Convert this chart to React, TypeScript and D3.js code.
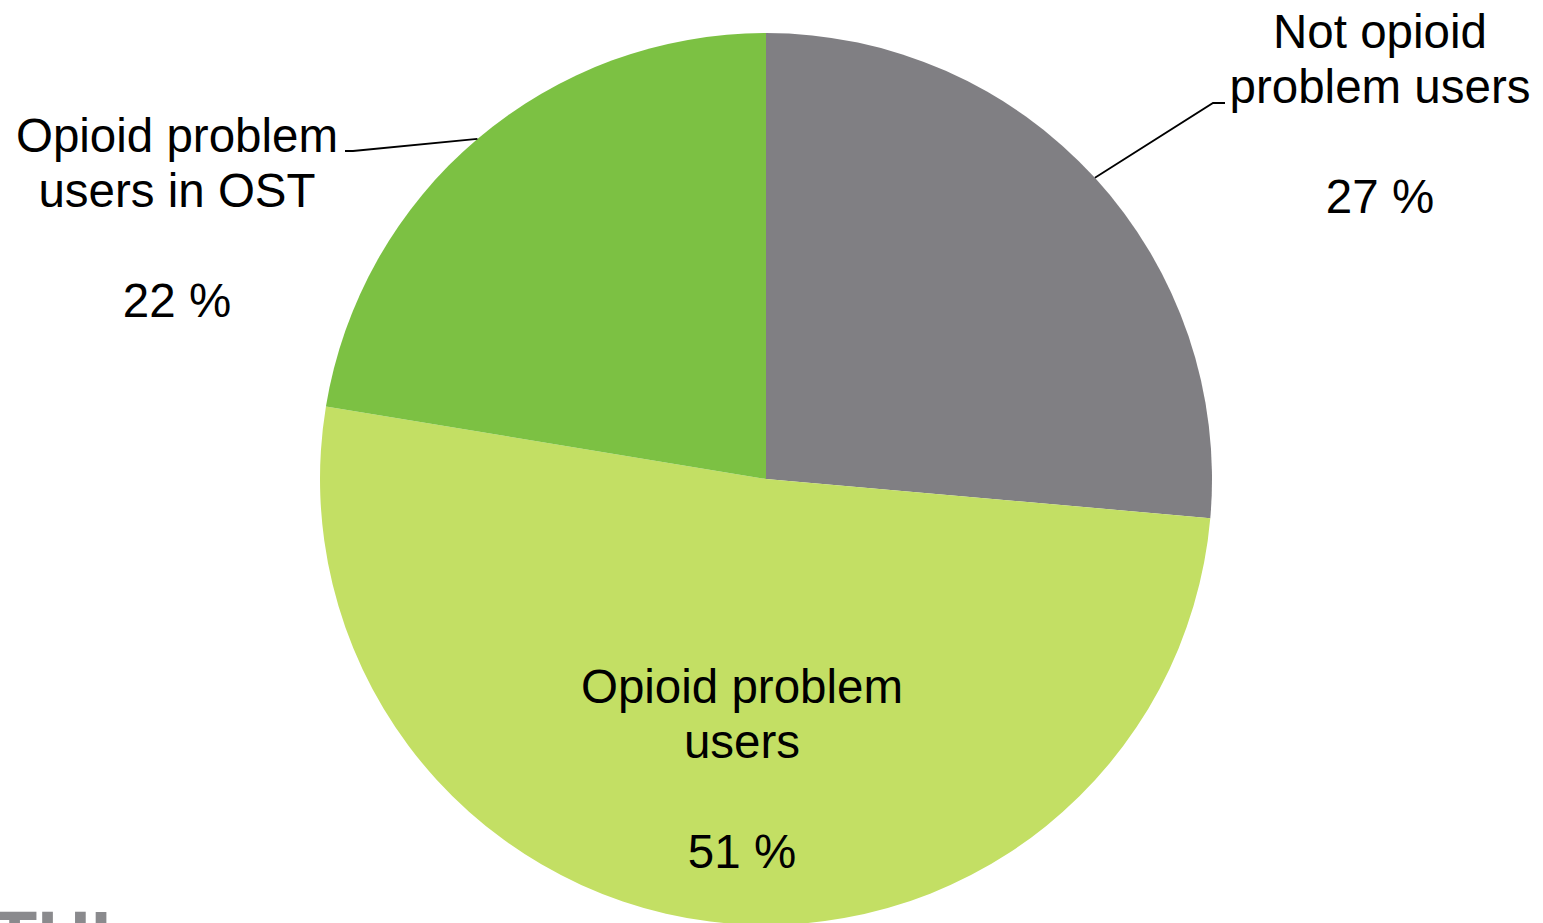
import React from "react";
import * as d3 from "d3";

const categories = ["Not opioid problem users", "Opioid problem users", "Opioid problem users in OST"];
const values = [26.4, 51.2, 22.4];
const pctLabels = ["27 %", "51 %", "22 %"];
const labelLines = [
  ["Not opioid", "problem users"],
  ["Opioid problem", "users"],
  ["Opioid problem", "users in OST"],
];
const colors = ["#807f83", "#c3df64", "#7cc143"];

const W = 1543;
const H = 923;
const cx = 766;
const cy = 479;
const R = 446;
const FONT = "'Liberation Sans', Arial, Helvetica, sans-serif";
const FS = 47.5;
const LH = 55;

// label anchor positions (center x, first baseline y)
const labelPos = [
  { x: 1380, y: 48 },
  { x: 742, y: 703 },
  { x: 177, y: 152 },
];

export default function App() {
  const pie = d3.pie<number>().sort(null).startAngle(0).endAngle(2 * Math.PI);
  const arcs = pie(values);
  const arc = d3.arc<d3.PieArcDatum<number>>().innerRadius(0).outerRadius(R);

  const edgeMid = (a: d3.PieArcDatum<number>): [number, number] => {
    const m = (a.startAngle + a.endAngle) / 2;
    return [cx + R * Math.sin(m), cy - R * Math.cos(m)];
  };

  const line = d3.line();
  const leaders: [number, number][][] = [
    [edgeMid(arcs[0]), [1213, 103], [1225, 103]],
    [edgeMid(arcs[2]), [353, 151], [345, 151]],
  ];

  return (
    <svg
      width={W}
      height={H}
      style={{ position: "absolute", left: 0, top: 0, display: "block", background: "#fff" }}
    >
      <g transform={`translate(${cx},${cy})`}>
        {arcs.map((a, i) => (
          <path key={categories[i]} d={arc(a) || ""} fill={colors[i]} />
        ))}
      </g>
      {leaders.map((pts, i) => (
        <path key={i} d={line(pts) || ""} fill="none" stroke="#000" strokeWidth={1.8} />
      ))}
      {labelLines.map((lines, i) => (
        <text
          key={categories[i]}
          x={labelPos[i].x}
          y={labelPos[i].y}
          textAnchor="middle"
          fontFamily={FONT}
          fontSize={FS}
          fill="#000"
        >
          {lines.map((l, j) => (
            <tspan key={j} x={labelPos[i].x} y={labelPos[i].y + j * LH}>
              {l}
            </tspan>
          ))}
          <tspan x={labelPos[i].x} y={labelPos[i].y + 3 * LH}>
            {pctLabels[i]}
          </tspan>
        </text>
      ))}
      <text x={-8} y={963} fontFamily={FONT} fontWeight="bold" fontSize={74} fill="#8a8a8d">
        THL
      </text>
    </svg>
  );
}
